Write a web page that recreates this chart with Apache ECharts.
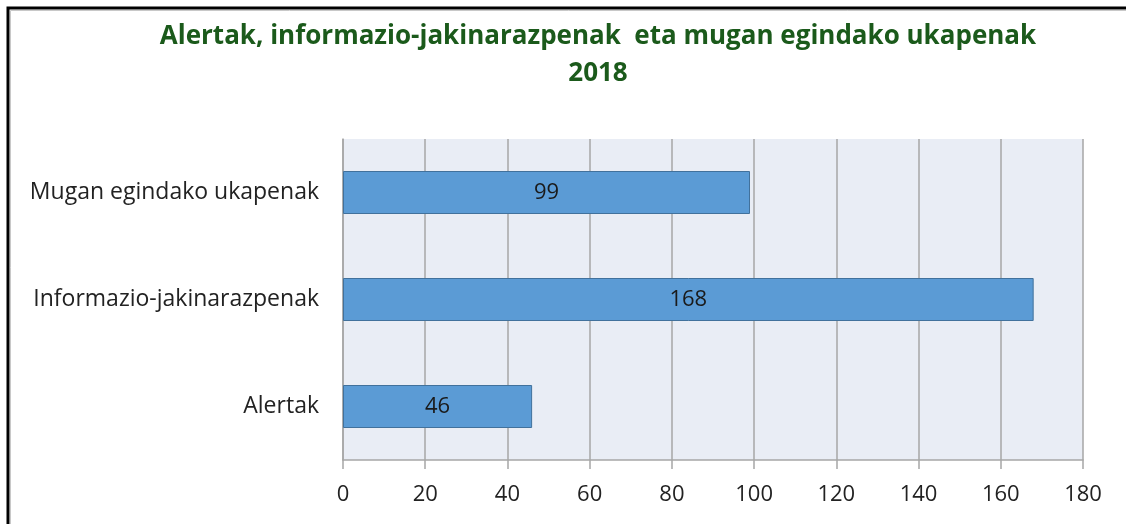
<!DOCTYPE html>
<html>
<head>
<meta charset="utf-8">
<script src="https://cdn.jsdelivr.net/npm/echarts@6/dist/echarts.min.js"></script>
<style>
html,body{margin:0;padding:0;background:#fff;}
#c{width:1126px;height:524px;}
</style>
</head>
<body>
<div id="c"></div>
<script>
const titleLines = ['Alertak, informazio-jakinarazpenak  eta mugan egindako ukapenak', '2018'];
const categories = ['Alertak', 'Informazio-jakinarazpenak', 'Mugan egindako ukapenak'];
const values = [46, 168, 99];
const xTicks = [0, 20, 40, 60, 80, 100, 120, 140, 160, 180];

const FONT = 'Open Sans';
const chart = echarts.init(document.getElementById('c'), null, {renderer: 'canvas'});
chart.setOption({
  animation: false,
  backgroundColor: '#ffffff',
  title: {
    text: titleLines.join('\n'),
    left: 593,
    textAlign: 'center',
    top: 13,
    textStyle: {
      fontFamily: FONT,
      fontWeight: 'bold',
      fontSize: 26,
      color: '#1b5a1b',
      lineHeight: 37
    }
  },
  graphic: [
    {type: 'polyline', shape: {points: [[8, 524], [8, 8], [1126, 8]]}, style: {stroke: '#000', lineWidth: 3, fill: null}, z: 100},
    {type: 'polyline', shape: {points: [[10.5, 524], [10.5, 10.5], [1126, 10.5]]}, style: {stroke: '#c8c8c8', lineWidth: 1, fill: null}, z: 100}
  ],
  grid: {left: 343, right: 43, top: 139, bottom: 64, backgroundColor: '#e9edf5', show: true, borderWidth: 0},
  xAxis: {
    type: 'value',
    min: xTicks[0],
    max: xTicks[xTicks.length - 1],
    interval: 20,
    axisLine: {show: true, lineStyle: {color: '#a6a6a6', width: 1.5}},
    axisTick: {show: true, length: 9, lineStyle: {color: '#a6a6a6', width: 1.5}},
    splitLine: {show: true, lineStyle: {color: '#a6a6a6', width: 1.5}},
    axisLabel: {fontFamily: FONT, fontSize: 22, color: '#222', margin: 24}
  },
  yAxis: {
    type: 'category',
    data: categories,
    axisLine: {show: true, lineStyle: {color: '#a6a6a6', width: 1.5}},
    axisTick: {show: false},
    axisLabel: {fontFamily: FONT, fontSize: 23, color: '#222', margin: 24}
  },
  series: [{
    type: 'bar',
    data: values,
    barWidth: 43,
    itemStyle: {color: '#5b9bd5', borderColor: '#41719c', borderWidth: 1},
    label: {show: true, position: 'inside', fontFamily: FONT, fontSize: 22, color: '#1a1a1a'},
    z: 3
  }]
});
</script>
</body>
</html>
